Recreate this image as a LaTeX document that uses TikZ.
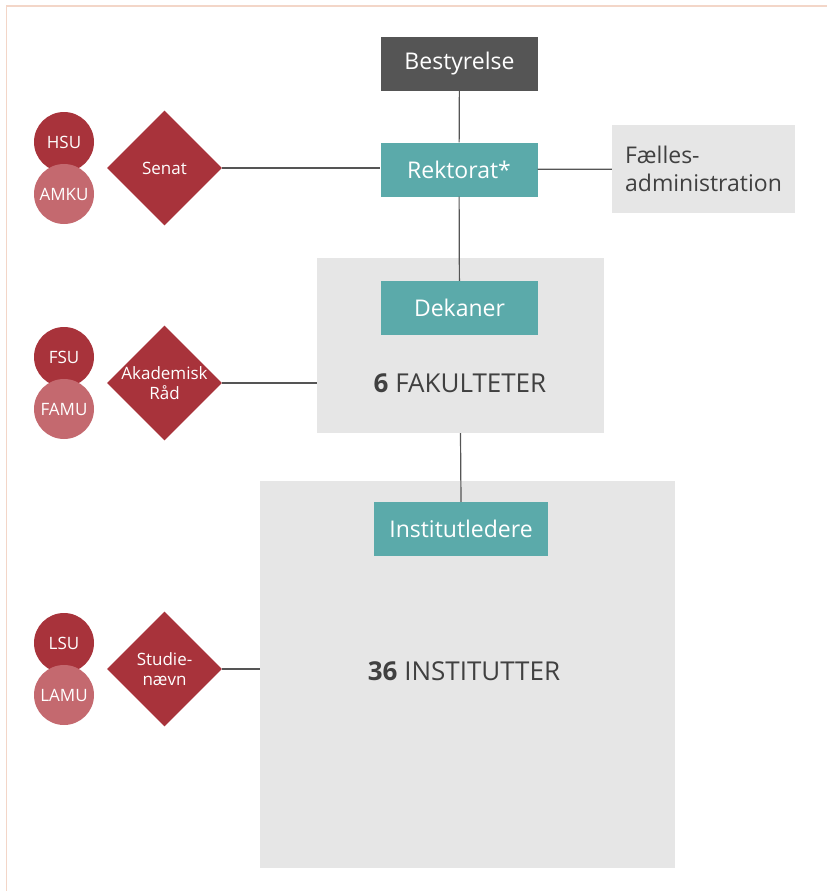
\documentclass[tikz,border=0pt]{standalone}
\usepackage{fontspec}
\setmainfont{Open Sans}
\usetikzlibrary{shapes.geometric}
\definecolor{uired}{HTML}{A8333B}
\definecolor{uipink}{HTML}{C4696F}
\definecolor{uiteal}{HTML}{5BAAAA}
\definecolor{uidark}{HTML}{555555}
\definecolor{uigray}{HTML}{E6E6E6}
\definecolor{uitext}{HTML}{404040}
\definecolor{uiframe}{HTML}{F3D6C8}

\begin{document}
\begin{tikzpicture}[x=1pt, y=-1pt,
  leader/.style={fill=uiteal, text=white, minimum width=157, minimum height=54, inner sep=0, font=\fontsize{23}{26}\selectfont},
  unitbox/.style={fill=uigray, inner sep=0},
  unitname/.style={text=uitext, font=\fontsize{26}{30}\selectfont},
  council/.style={diamond, aspect=1, fill=uired, inner sep=0, minimum width=115, minimum height=115},
  counciltext/.style={text=white, align=center, font=\fontsize{17}{20}\selectfont},
  committee/.style={circle, fill=#1, text=white, inner sep=0, minimum size=60, font=\fontsize{17}{19}\selectfont},
  link/.style={draw=uidark, line width=1.2}]
\useasboundingbox (0,0) rectangle (827,891);

% frame
\draw [uiframe, line width=1.5] (6.5,891) -- (6.5,6) -- (827,6);

% gray unit boxes
\node [unitbox, minimum width=287, minimum height=175] (fak) at (460.5,345.5) {};
\node [unitbox, minimum width=415, minimum height=387] (inst) at (467.5,674.5) {};
\node [unitbox, minimum width=183, minimum height=88, text=uitext, align=left,
  font=\fontsize{23}{28}\selectfont] (adm) at (703.5,169) {Fælles-\\administration};

% leaders
\node [leader, fill=uidark] (best) at (459.5,64) {Bestyrelse};
\node [leader] (rekt) at (459,169.5) {Rektorat*};
\node [leader] (dek) at (459.5,308) {Dekaner};
\node [leader, minimum width=174] (instled) at (461,529) {Institutledere};

\node [unitname] (fakname) at (460,383) {\textbf{6} FAKULTETER};
\node [unitname] (instname) at (464,671) {\textbf{36} INSTITUTTER};

% councils and committees
\foreach \y/\name/\lab/\top/\bot in {
  168/senat/Senat/HSU/AMKU,
  383/akad/{Akademisk\\Råd}/FSU/FAMU,
  669/stud/{Studie-\\nævn}/LSU/LAMU} {
  \node [council, label={[counciltext]center:\lab}] (\name) at (164.5,\y) {};
  \node [committee=uired] (\name-top) at (64,\y-26) {\top};
  \node [committee=uipink] (\name-bot) at (64,\y+26) {\bot};
}

% connectors
\draw [link] (best) -- (rekt);
\draw [link] (rekt) -- (dek);
\draw [link] (rekt) -- (adm);
\draw [link] (senat.east) -- (senat.east -| rekt.west);
\draw [link] (akad.east) -- (akad.east -| fak.west);
\draw [link] (stud.east) -- (stud.east -| inst.west);
\draw [link] (fak.south) -- (instled.north);

\end{tikzpicture}
\end{document}
